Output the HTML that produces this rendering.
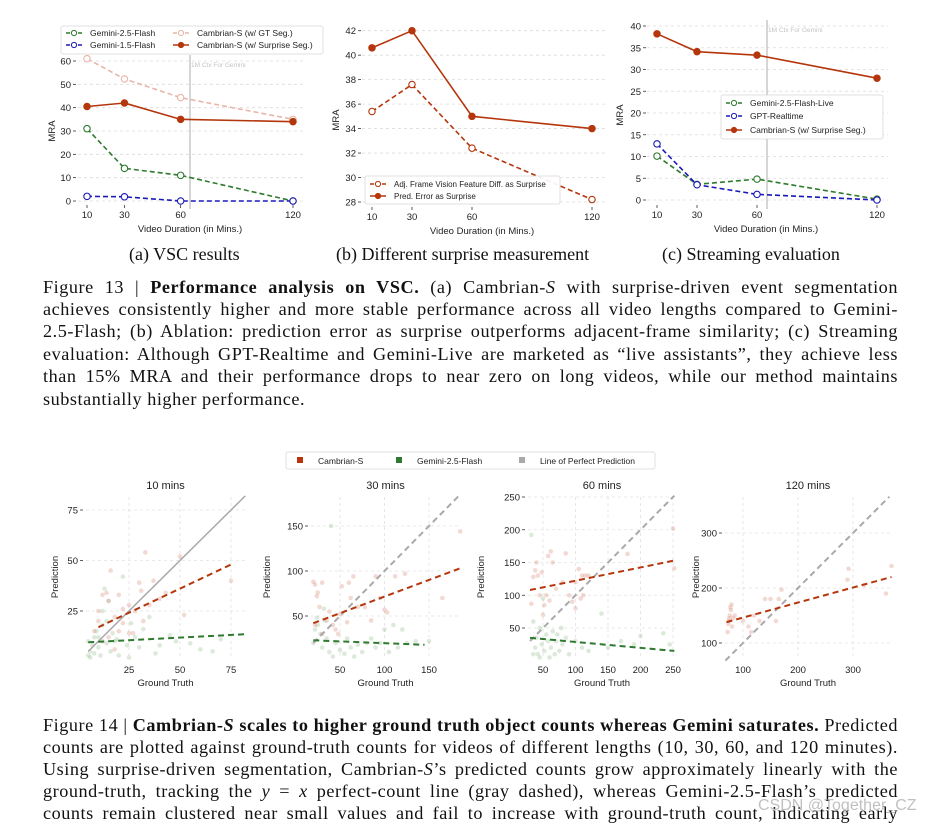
<!DOCTYPE html>
<html><head><meta charset="utf-8">
<style>
html,body{margin:0;padding:0;background:#fff;}
body{width:926px;height:824px;position:relative;overflow:hidden;font-family:"Liberation Sans",sans-serif;}
svg{position:absolute;left:0;top:0;}
.cap{position:absolute;font-family:"Liberation Serif",serif;font-size:18px;color:#111;white-space:nowrap;}
.ln{position:absolute;left:43px;width:855px;font-family:"Liberation Serif",serif;font-size:18.2px;letter-spacing:0.55px;color:#111;text-align:justify;text-align-last:justify;white-space:nowrap;line-height:22px;}
.ln.last{text-align-last:left;}
.wm{position:absolute;left:758px;top:797px;white-space:nowrap;font-family:"Liberation Sans",sans-serif;font-size:16px;color:rgba(150,150,150,0.6);}
</style></head>
<body>
<svg id="chart" width="926" height="824" viewBox="0 0 926 824"></svg>

<div class="cap" style="left:129px;top:244px;">(a) VSC results</div>
<div class="cap" style="left:336px;top:244px;">(b) Different surprise measurement</div>
<div class="cap" style="left:662px;top:244px;">(c) Streaming evaluation</div>

<div>
<div class="ln" style="top:276px;">Figure 13 | <b>Performance analysis on VSC.</b> (a) Cambrian-<i>S</i> with surprise-driven event segmentation</div>
<div class="ln" style="top:298px;">achieves consistently higher and more stable performance across all video lengths compared to Gemini-</div>
<div class="ln" style="top:320px;">2.5-Flash; (b) Ablation: prediction error as surprise outperforms adjacent-frame similarity; (c) Streaming</div>
<div class="ln" style="top:343px;">evaluation: Although GPT-Realtime and Gemini-Live are marketed as “live assistants”, they achieve less</div>
<div class="ln" style="top:365px;">than 15% MRA and their performance drops to near zero on long videos, while our method maintains</div>
<div class="ln last" style="top:388px;">substantially higher performance.</div>
</div>

<div>
<div class="ln" style="top:714px;">Figure 14 | <b>Cambrian-<i>S</i> scales to higher ground truth object counts whereas Gemini saturates.</b> Predicted</div>
<div class="ln" style="top:736px;">counts are plotted against ground-truth counts for videos of different lengths (10, 30, 60, and 120 minutes).</div>
<div class="ln" style="top:758px;">Using surprise-driven segmentation, Cambrian-<i>S</i>’s predicted counts grow approximately linearly with the</div>
<div class="ln" style="top:780px;">ground-truth, tracking the <i>y</i> = <i>x</i> perfect-count line (gray dashed), whereas Gemini-2.5-Flash’s predicted</div>
<div class="ln" style="top:802px;">counts remain clustered near small values and fail to increase with ground-truth count, indicating early</div>
</div>
<div class="wm">CSDN @Together_CZ</div>

<script>
// ---------- DATA ----------
const durations = [10, 30, 60, 120];
const aGemini25 = [31, 14, 11, 0];
const aGemini15 = [2, 1.8, 0, 0];
const aCambrianGT = [61, 52.3, 44.3, 35];
const aCambrianSurprise = [40.5, 42, 35, 34];
const aYTicks = [0, 10, 20, 30, 40, 50, 60];

const bAdjFrame = [35.4, 37.6, 32.4, 28.2];
const bPredError = [40.6, 42, 35, 34];
const bYTicks = [28, 30, 32, 34, 36, 38, 40, 42];

const cGeminiLive = [10.1, 3.6, 4.8, 0.2];
const cGptRealtime = [12.9, 3.5, 1.3, 0];
const cCambrian = [38.2, 34.1, 33.3, 28];
const cYTicks = [0, 5, 10, 15, 20, 25, 30, 35, 40];

const ctxLimit = 65;

const s10Cambrian = [[10,20],[12,33],[14,34],[16,45],[15,30],[18,22],[20,33],[22,26],[25,28],[27,14],[30,39],[31,35],[33,54],[35,28],[37,40],[40,31],[43,34],[50,52],[52,23],[75,40],[8,15],[12,10],[20,15],[25,14],[28,25],[32,20],[18,6],[15,12],[22,19],[10,25]];
const s10Gemini = [[5,3],[6,5],[7,8],[8,12],[5,10],[9,15],[10,7],[12,18],[13,36],[14,20],[15,30],[16,5],[18,10],[20,3],[22,42],[24,8],[25,2],[28,12],[30,7],[35,22],[40,8],[45,13],[48,10],[55,9],[60,6],[66,5],[70,11],[6,2],[8,4],[10,12],[11,3],[12,25],[14,9],[17,14],[19,11],[26,19],[32,16],[38,4]];
const s10CambrianFit = [[10,17],[75,48]];
const s10GeminiFit = [[5,9.5],[82,13.5]];
const s10Perfect = [[5,5],[82,82]];

const s30Cambrian = [[20,88],[22,85],[25,76],[24,72],[27,60],[30,87],[35,45],[38,55],[42,40],[45,35],[48,30],[52,83],[58,43],[60,87],[62,70],[65,94],[70,60],[78,60],[85,45],[90,94],[95,70],[100,57],[103,54],[112,94],[123,97],[165,70],[185,144],[22,40],[30,30],[50,52]];
const s30Gemini = [[20,20],[22,35],[25,40],[28,30],[30,15],[33,45],[35,25],[38,10],[40,150],[42,5],[45,20],[50,12],[55,8],[58,25],[62,15],[66,5],[70,18],[75,10],[80,20],[85,25],[90,15],[95,20],[100,35],[105,10],[110,40],[115,15],[120,35],[125,20],[135,22],[150,22],[24,48],[32,58]];
const s30CambrianFit = [[20,42],[185,103]];
const s30GeminiFit = [[20,23],[145,18]];
const s30Perfect = [[20,20],[185,185]];

const s60Cambrian = [[32,87],[35,128],[38,138],[40,150],[42,130],[45,100],[48,135],[50,70],[52,85],[55,100],[58,160],[62,167],[65,150],[70,110],[80,120],[85,164],[90,100],[95,90],[100,80],[105,140],[108,95],[110,130],[112,100],[115,130],[120,130],[180,163],[250,202],[252,141],[60,92],[100,120]];
const s60Gemini = [[32,192],[35,60],[38,20],[40,35],[42,10],[45,50],[48,25],[50,95],[52,15],[55,40],[58,30],[60,5],[62,20],[65,45],[68,10],[70,30],[72,40],[75,15],[78,50],[80,25],[85,35],[90,10],[100,30],[110,20],[120,15],[140,72],[150,20],[170,30],[190,25],[200,38],[235,42],[245,25],[35,10],[45,5]];
const s60CambrianFit = [[30,108],[252,153]];
const s60GeminiFit = [[30,35],[252,15]];
const s60Perfect = [[30,30],[252,252]];

const s120Cambrian = [[72,120],[73,135],[74,140],[75,145],[76,150],[77,165],[78,160],[79,170],[80,130],[82,145],[85,150],[100,140],[110,130],[115,120],[120,150],[130,140],[140,180],[150,180],[160,140],[165,180],[170,197],[290,215],[292,235],[320,205],[360,190],[370,240]];
const s120CambrianFit = [[70,138],[370,220]];
const s120Perfect = [[68,68],[366,366]];

// ---------- HELPERS ----------
const NS = "http://www.w3.org/2000/svg";
const svg = document.getElementById('chart');
const RED = "#b5360c", GREEN = "#2e7a2e", BLUE = "#1a1ab8", PINK = "#e9b5a6", GRAY = "#a9a9a9";
function mk(tag, attrs, parent) {
  const e = document.createElementNS(NS, tag);
  for (const k in attrs) e.setAttribute(k, attrs[k]);
  (parent || svg).appendChild(e);
  return e;
}
function txt(s, x, y, size, anchor, parent, extra) {
  const t = mk('text', Object.assign({x: x, y: y, 'font-size': size, 'text-anchor': anchor || 'middle', fill: '#222', 'font-family': '"Liberation Sans", sans-serif'}, extra || {}), parent);
  t.textContent = s;
  return t;
}
function lin(d0, d1, r0, r1) { return v => r0 + (v - d0) * (r1 - r0) / (d1 - d0); }

// ---------- LINE CHARTS ----------
function lineChart(cfg) {
  const g = mk('g', {});
  
  
  const xs = cfg.x, ys = cfg.y;
  cfg.yTicks.forEach(t => {
    const gl = mk('line', {x1: cfg.gx0, x2: cfg.gx1, y1: ys(t), y2: ys(t), stroke: '#dcdcdc', 'stroke-width': 0.8, 'stroke-dasharray': '3,3'}, g);
    
    
    mk('line', {x1: cfg.tickX - 3, x2: cfg.tickX, y1: ys(t), y2: ys(t), stroke: '#333', 'stroke-width': 0.8}, g);
    const tl = txt(String(t), cfg.tickX - 5, ys(t) + 3.5, 9.5, 'end', g);
    
    
  });
  durations.forEach(d => {
    mk('line', {x1: xs(d), x2: xs(d), y1: cfg.tickY, y2: cfg.tickY + 3, stroke: '#333', 'stroke-width': 0.8}, g);
    const tl = txt(String(d), xs(d), cfg.tickY + 13, 9.5, 'middle', g);
    
    
  });
  const xt = txt('Video Duration (in Mins.)', cfg.xTitleX, cfg.tickY + 27, 9.5, 'middle', g);
  
  
  const yt = txt('MRA', 0, 0, 9.5, 'middle', g, {transform: 'translate(' + cfg.yTitleX + ',' + cfg.yTitleY + ') rotate(-90)'});
  
  
  if (cfg.vline) {
    const vl = mk('line', {x1: xs(ctxLimit), x2: xs(ctxLimit), y1: cfg.vy0, y2: cfg.vy1, stroke: '#c8c8c8', 'stroke-width': 1.5}, g);
    
    
    const vt = txt('1M Ctx For Gemini', xs(ctxLimit) + 1, cfg.vy0 + 12, 6.5, 'start', g, {fill: '#c4c4c4'});
    
    
  }
  cfg.series.forEach(s => {
    const sg = mk('g', {}, g);
    
    
    const pts = s.vals.map((v, i) => xs(durations[i]) + ',' + ys(v)).join(' ');
    mk('polyline', {points: pts, fill: 'none', stroke: s.color, 'stroke-width': 1.6, 'stroke-dasharray': s.dash ? '5,3' : 'none'}, sg);
    s.vals.forEach((v, i) => {
      const c = mk('circle', {cx: xs(durations[i]), cy: ys(v), r: 3.2, fill: s.dash ? '#fff' : s.color, stroke: s.color, 'stroke-width': 1.1}, sg);
      
      
    });
  });
  const L = cfg.legend;
  const lg = mk('g', {}, g);
  
  
  mk('rect', {x: L.x, y: L.y, width: L.w, height: L.h, fill: 'rgba(255,255,255,0.92)', stroke: '#d8d8d8', 'stroke-width': 0.8, rx: 2}, lg);
  L.items.forEach(it => {
    const s = cfg.series[it.i];
    const eg = mk('g', {}, lg);
    
    
    mk('line', {x1: it.x, x2: it.x + 16, y1: it.y, y2: it.y, stroke: s.color, 'stroke-width': 1.5, 'stroke-dasharray': s.dash ? '4,2' : 'none'}, eg);
    mk('circle', {cx: it.x + 8, cy: it.y, r: 2.6, fill: s.dash ? '#fff' : s.color, stroke: s.color, 'stroke-width': 1}, eg);
    txt(s.label, it.x + 24, it.y + 3, L.fs || 8.5, 'start', eg);
  });
}

lineChart({
  name: 'chart-a-vsc-results',
  x: lin(10, 120, 87, 293), y: lin(0, 60, 201, 61),
  yTicks: aYTicks, gx0: 78, gx1: 305, tickX: 76, tickY: 205,
  xTitleX: 190, yTitleX: 55, yTitleY: 131,
  vline: true, vy0: 55, vy1: 209,
  series: [
    {name: 'series-gemini-2-5-flash', label: 'Gemini-2.5-Flash', vals: aGemini25, color: GREEN, dash: true},
    {name: 'series-gemini-1-5-flash', label: 'Gemini-1.5-Flash', vals: aGemini15, color: BLUE, dash: true},
    {name: 'series-cambrian-gt-seg', label: 'Cambrian-S (w/ GT Seg.)', vals: aCambrianGT, color: PINK, dash: true},
    {name: 'series-cambrian-surprise-seg', label: 'Cambrian-S (w/ Surprise Seg.)', vals: aCambrianSurprise, color: RED, dash: false}
  ],
  legend: {x: 61, y: 26, w: 262, h: 28, items: [
    {i: 0, x: 66, y: 33}, {i: 1, x: 66, y: 45}, {i: 2, x: 173, y: 33}, {i: 3, x: 173, y: 45}
  ]}
});

lineChart({
  name: 'chart-b-surprise-measurement',
  x: lin(10, 120, 372, 592), y: lin(28, 42, 202, 30.7),
  yTicks: bYTicks, gx0: 362, gx1: 605, tickX: 361, tickY: 207,
  xTitleX: 482, yTitleX: 339, yTitleY: 120,
  vline: false,
  series: [
    {name: 'series-adj-frame-diff', label: 'Adj. Frame Vision Feature Diff. as Surprise', vals: bAdjFrame, color: RED, dash: true},
    {name: 'series-pred-error', label: 'Pred. Error as Surprise', vals: bPredError, color: RED, dash: false}
  ],
  legend: {x: 365, y: 176, w: 195, h: 28, fs: 8, items: [{i: 0, x: 370, y: 184}, {i: 1, x: 370, y: 196}]}
});

lineChart({
  name: 'chart-c-streaming-evaluation',
  x: lin(10, 120, 657, 877), y: lin(0, 40, 200, 26),
  yTicks: cYTicks, gx0: 647, gx1: 888, tickX: 646, tickY: 205,
  xTitleX: 766, yTitleX: 623, yTitleY: 115,
  vline: true, vy0: 20, vy1: 209,
  series: [
    {name: 'series-gemini-live', label: 'Gemini-2.5-Flash-Live', vals: cGeminiLive, color: GREEN, dash: true},
    {name: 'series-gpt-realtime', label: 'GPT-Realtime', vals: cGptRealtime, color: BLUE, dash: true},
    {name: 'series-cambrian-surprise', label: 'Cambrian-S (w/ Surprise Seg.)', vals: cCambrian, color: RED, dash: false}
  ],
  legend: {x: 721, y: 95, w: 162, h: 44, items: [{i: 0, x: 726, y: 103}, {i: 1, x: 726, y: 116}, {i: 2, x: 726, y: 130}]}
});

// ---------- SCATTER CHARTS ----------
function scatter(cfg) {
  const g = mk('g', {});
  
  
  const xs = cfg.x, ys = cfg.y;
  cfg.xTicks.forEach(t => {
    const gl = mk('line', {x1: xs(t), x2: xs(t), y1: cfg.top, y2: cfg.bottom, stroke: '#e2e2e2', 'stroke-width': 0.8, 'stroke-dasharray': '3,3'}, g);
    
    
    const tl = txt(String(t), xs(t), cfg.bottom + 14, 9.5, 'middle', g);
    
    
  });
  cfg.yTicks.forEach(t => {
    const gl = mk('line', {x1: cfg.left, x2: cfg.right, y1: ys(t), y2: ys(t), stroke: '#e2e2e2', 'stroke-width': 0.8, 'stroke-dasharray': '3,3'}, g);
    
    
    mk('line', {x1: cfg.left - 6, x2: cfg.left - 3, y1: ys(t), y2: ys(t), stroke: '#333', 'stroke-width': 0.8}, g);
    const tl = txt(String(t), cfg.left - 8, ys(t) + 3.5, 9.5, 'end', g);
    
    
  });
  const tt = txt(cfg.title, (cfg.left + cfg.right) / 2, 489, 11, 'middle', g);
  
  
  const xt = txt('Ground Truth', (cfg.left + cfg.right) / 2, 686, 9.5, 'middle', g);
  
  
  const yt = txt('Prediction', 0, 0, 9.5, 'middle', g, {transform: 'translate(' + (cfg.yTitleX) + ',577) rotate(-90)'});
  
  
  if (cfg.gem) cfg.gem.forEach(p => {
    const c = mk('circle', {cx: xs(p[0]), cy: ys(p[1]), r: 2.3, fill: 'rgba(120,170,110,0.25)'}, g);
    
    
  });
  cfg.cam.forEach(p => {
    const c = mk('circle', {cx: xs(p[0]), cy: ys(p[1]), r: 2.3, fill: 'rgba(215,130,110,0.3)'}, g);
    
    
  });
  const pl = mk('line', {x1: xs(cfg.perfect[0][0]), y1: ys(cfg.perfect[0][1]), x2: xs(cfg.perfect[1][0]), y2: ys(cfg.perfect[1][1]), stroke: GRAY, 'stroke-width': cfg.solidPerfect ? 1.5 : 2, 'stroke-dasharray': cfg.solidPerfect ? 'none' : '6,4'}, g);
  
  
  if (cfg.gemFit) {
    const l = mk('line', {x1: xs(cfg.gemFit[0][0]), y1: ys(cfg.gemFit[0][1]), x2: xs(cfg.gemFit[1][0]), y2: ys(cfg.gemFit[1][1]), stroke: GREEN, 'stroke-width': 2, 'stroke-dasharray': '6,4'}, g);
    
    
  }
  const l = mk('line', {x1: xs(cfg.camFit[0][0]), y1: ys(cfg.camFit[0][1]), x2: xs(cfg.camFit[1][0]), y2: ys(cfg.camFit[1][1]), stroke: RED, 'stroke-width': 2, 'stroke-dasharray': '6,4'}, g);
  
  
}

scatter({name: 'scatter-10-mins', title: '10 mins', x: lin(25, 75, 129, 231), y: lin(25, 75, 611, 510),
  left: 86, right: 245, top: 497, bottom: 659, yTitleX: 58,
  xTicks: [25, 50, 75], yTicks: [25, 50, 75],
  cam: s10Cambrian, gem: s10Gemini, camFit: s10CambrianFit, gemFit: s10GeminiFit, perfect: s10Perfect, solidPerfect: true});
scatter({name: 'scatter-30-mins', title: '30 mins', x: lin(50, 150, 340, 429), y: lin(50, 150, 616, 526),
  left: 311, right: 460, top: 497, bottom: 659, yTitleX: 270,
  xTicks: [50, 100, 150], yTicks: [50, 100, 150],
  cam: s30Cambrian, gem: s30Gemini, camFit: s30CambrianFit, gemFit: s30GeminiFit, perfect: s30Perfect});
scatter({name: 'scatter-60-mins', title: '60 mins', x: lin(50, 250, 543, 673), y: lin(50, 250, 628, 497),
  left: 528, right: 676, top: 497, bottom: 659, yTitleX: 484,
  xTicks: [50, 100, 150, 200, 250], yTicks: [50, 100, 150, 200, 250],
  cam: s60Cambrian, gem: s60Gemini, camFit: s60CambrianFit, gemFit: s60GeminiFit, perfect: s60Perfect});
scatter({name: 'scatter-120-mins', title: '120 mins', x: lin(100, 300, 743, 853), y: lin(100, 300, 643, 533),
  left: 725, right: 891, top: 497, bottom: 659, yTitleX: 699,
  xTicks: [100, 200, 300], yTicks: [100, 200, 300],
  cam: s120Cambrian, gem: null, camFit: s120CambrianFit, gemFit: null, perfect: s120Perfect});

const lg = mk('g', {});


mk('rect', {x: 286, y: 452, width: 369, height: 17, fill: '#fff', stroke: '#d8d8d8', 'stroke-width': 0.8, rx: 2}, lg);
[['Cambrian-S', RED, 297], ['Gemini-2.5-Flash', GREEN, 396], ['Line of Perfect Prediction', GRAY, 519]].forEach(e => {
  const eg = mk('g', {}, lg);
  
  
  mk('rect', {x: e[2], y: 457, width: 6, height: 6, fill: e[1]}, eg);
  txt(e[0], e[2] + 21, 464, 8.5, 'start', eg);
});
</script>
</body></html>
